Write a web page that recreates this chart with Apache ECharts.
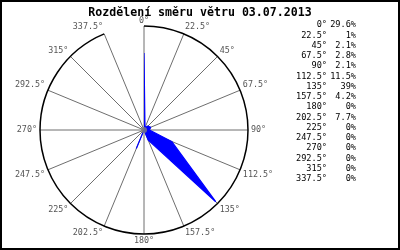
<!DOCTYPE html>
<html><head><meta charset="utf-8">
<script src="https://cdn.jsdelivr.net/npm/echarts@6/dist/echarts.min.js"></script>
<style>html,body{margin:0;padding:0;background:#fff}#c{width:400px;height:250px}</style>
</head><body><div id="c"></div>
<script>
var titleText = 'Rozdělení směru větru 03.07.2013';
var directions = ['0','22.5','45','67.5','90','112.5','135','157.5','180','202.5','225','247.5','270','292.5','315','337.5'];
var percents = [29.6, 1, 2.1, 2.8, 2.1, 11.5, 39, 4.2, 0, 7.7, 0, 0, 0, 0, 0, 0];

var mono = "'DejaVu Sans Mono', 'Liberation Mono', monospace";
var chart = echarts.init(document.getElementById('c'), null, {renderer: 'canvas'});

var graphics = [{
  type: 'rect', shape: {x: 1, y: 1, width: 398, height: 248},
  style: {fill: 'none', stroke: '#000', lineWidth: 2}, silent: true
}];
directions.forEach(function (d, i) {
  var y = 25 + i * 10.27;
  graphics.push({type: 'text', x: 327, y: y, style: {text: d + '°', font: '8.6px ' + mono, fill: '#000', align: 'right', verticalAlign: 'middle'}});
  graphics.push({type: 'text', x: 356, y: y, style: {text: percents[i] + '%', font: '8.6px ' + mono, fill: '#000', align: 'right', verticalAlign: 'middle'}});
});

chart.setOption({
  animation: false,
  backgroundColor: '#fff',
  title: {
    text: titleText, left: 'center', top: 2,
    textStyle: {fontFamily: mono, fontWeight: 'bold', fontSize: 11.6, color: '#000'}
  },
  polar: {center: [144, 130], radius: 104},
  angleAxis: {
    type: 'category', data: directions, boundaryGap: false,
    startAngle: 90, clockwise: true,
    axisLine: {show: true, lineStyle: {color: '#000', width: 1.5}},
    axisTick: {show: false},
    splitLine: {show: true, lineStyle: {color: '#6e6e6e', width: 1}},
    axisLabel: {show: true, margin: 3, color: '#555', fontFamily: mono, fontSize: 8.4,
      formatter: function (v) { return v === directions[0] ? '{top|' + v + '°}' : v + '°'; },
      rich: {top: {lineHeight: 4, color: '#555', fontFamily: mono, fontSize: 8.4}}}
  },
  radiusAxis: {
    type: 'value', min: 0, max: 40,
    axisLine: {show: false}, axisTick: {show: false}, axisLabel: {show: false},
    splitLine: {show: false}
  },
  series: [{
    type: 'line', coordinateSystem: 'polar', data: percents,
    symbol: 'none', smooth: false,
    lineStyle: {color: '#0000ff', width: 1.2},
    areaStyle: {color: '#0000ff', opacity: 1},
    z: 3
  }, {
    type: 'scatter', coordinateSystem: 'polar', data: [[0, 0]],
    symbol: 'circle', symbolSize: 6, itemStyle: {color: '#808080'}, z: 4
  }],
  graphic: graphics
});
</script></body></html>
